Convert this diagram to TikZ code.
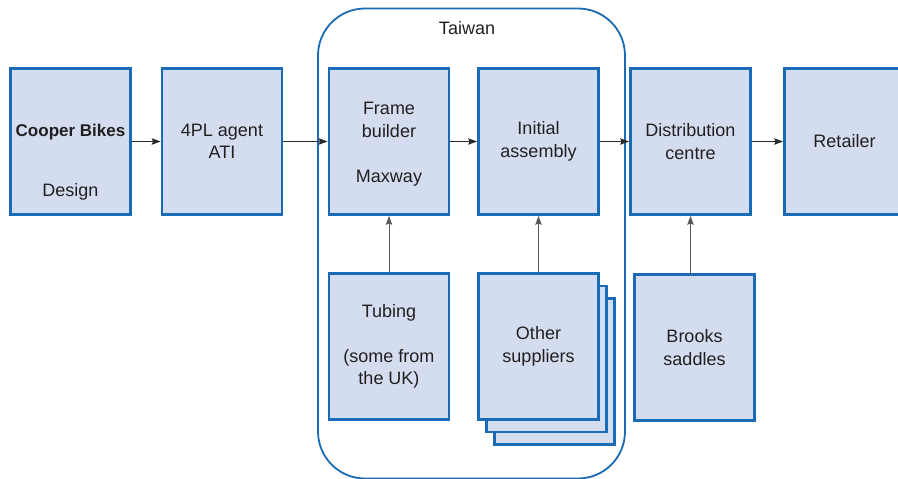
\documentclass[tikz,border=0pt]{standalone}
\usepackage{fontspec}
\setmainfont{Liberation Sans}
\usetikzlibrary{arrows.meta}
\definecolor{boxfill}{HTML}{D3DDEF}
\definecolor{boxline}{HTML}{1A6BB5}
\definecolor{arr}{HTML}{2A2A2A}
\definecolor{txt}{HTML}{231F20}
\begin{document}
\begin{tikzpicture}[x=1pt,y=-1pt,
  stagebox/.style={draw=boxline, line width=2.8pt, fill=boxfill,
    minimum width=120pt, minimum height=146pt, inner sep=0pt,
    align=center, font=\fontsize{18}{22.5}\selectfont, text=txt},
  lbl/.style={inner sep=0pt, font=\fontsize{18}{22.5}\selectfont, text=txt},
  region/.style={draw=boxline, line width=1.8pt, rounded corners=47pt,
    minimum width=307pt, minimum height=470pt, inner sep=0pt},
  flow/.style={-{Stealth[length=9pt,width=6.5pt,inset=1.5pt]}, line width=0.9pt, draw=arr},
  feed/.style={-{Stealth[length=9pt,width=6.5pt,inset=1.5pt]}, line width=0.9pt, draw=black!65},
]
\useasboundingbox (0,0) rectangle (898,479);
\clip (0,0) rectangle (898,479);

% Taiwan region
\node[region] (taiwan) at (471.5,243.5) {};
\node[lbl] (taiwanlbl) at (467,28) {Taiwan};

% top row
\node[stagebox] (cooper) at (70.5,141.5) {};
\node[lbl, anchor=base, font=\fontsize{17}{22}\selectfont] (cooperT) at (70.5,136) {\bfseries Cooper Bikes};
\node[lbl, anchor=base] (cooperD) at (70.5,196) {Design};
\node[stagebox] (fourpl) at (222,141.5) {4PL agent\\ATI};
\node[stagebox] (frame) at (389,141.5) {\rule{0pt}{17.5pt}Frame\\builder\\[22.5pt]Maxway};
\node[stagebox] (initial) at (538.5,141.5) {Initial\\assembly};
\node[stagebox] (dist) at (690.5,141.5) {Distribution\\centre};
\node[stagebox] (retailer) at (844.5,141.5) {Retailer};

% bottom row
\node[stagebox] (tubing) at (389,346.5) {Tubing\\[22.5pt](some from\\the UK)};
\node[stagebox] (other3) at (554.5,371.5) {};
\node[stagebox] (other2) at (546.5,359) {};
\node[stagebox] (other) at (538.5,346.5) {Other\\suppliers};
\node[stagebox] (brooks) at (694.5,347.5) {Brooks\\saddles};

% flows
\draw[flow] (cooper) -- (fourpl);
\draw[flow] (fourpl) -- (frame);
\draw[flow] (frame) -- (initial);
\draw[flow] (initial) -- (dist);
\draw[flow] (dist) -- (retailer);

\draw[feed] (tubing.north) -- (frame.south);
\draw[feed] (other.north) -- (initial.south);
\draw[feed] (brooks.north -| dist.south) -- (dist.south);
\end{tikzpicture}
\end{document}
